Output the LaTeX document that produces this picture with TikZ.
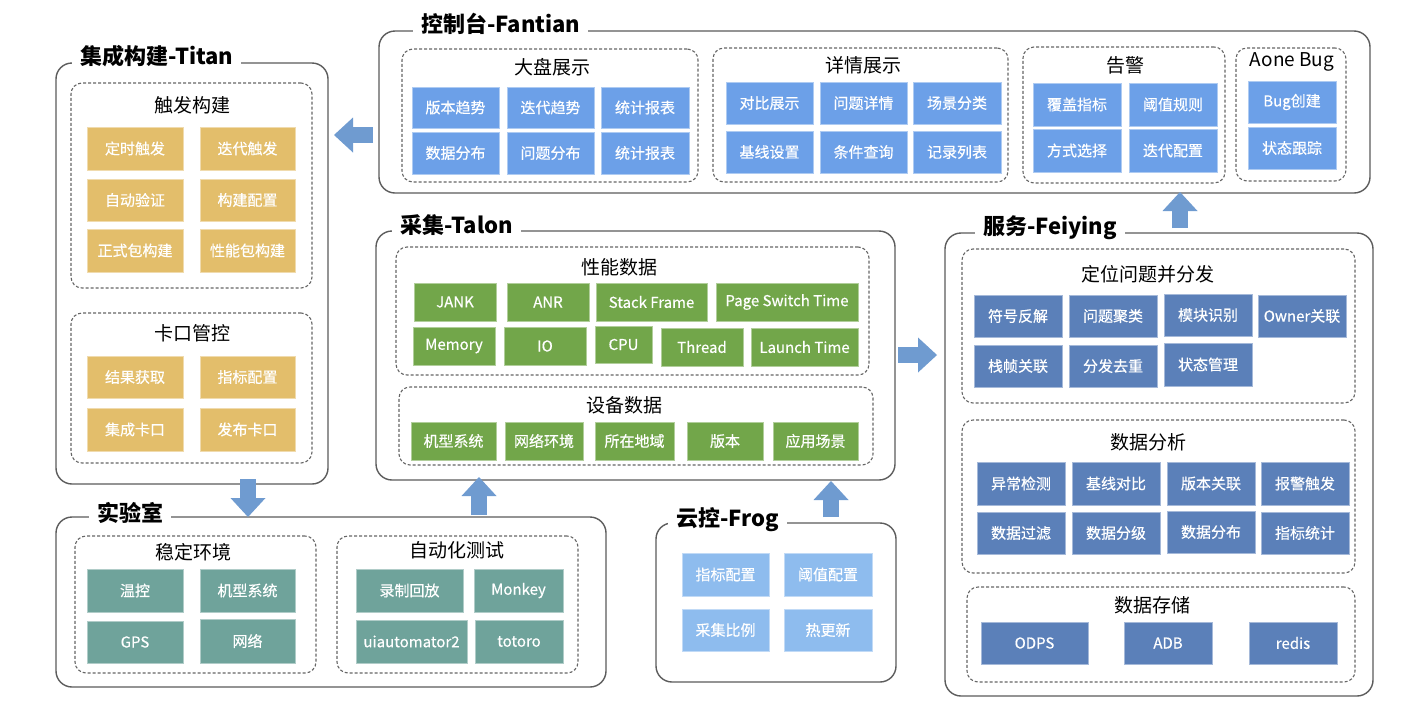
\documentclass[tikz,border=0pt]{standalone}
\usepackage{fontspec}
\setmainfont{Noto Sans CJK SC}
\newfontface\cellfont{Noto Sans CJK SC}[FakeBold=0.5]
\usetikzlibrary{arrows.meta}
\definecolor{linegray}{HTML}{5C5C5C}
\definecolor{dashgray}{HTML}{666666}
\definecolor{goldc}{HTML}{E3BE6B}
\definecolor{fanc}{HTML}{6CA0E8}
\definecolor{talc}{HTML}{72A64A}
\definecolor{feic}{HTML}{5B80B9}
\definecolor{labc}{HTML}{6FA39B}
\definecolor{frogc}{HTML}{8EBCEE}
\definecolor{arrc}{HTML}{6F9BD0}
\newcommand\bx[7]{\node[#2, minimum width={(#5-#3)*1pt}, minimum height={(#6-#4)*1pt}] (#1) at ({(#3+#5)/2},{(#4+#6)/2}) {#7};}
\tikzset{
  outerbox/.style={draw=linegray, line width=1.4pt, rounded corners=16pt, inner sep=0pt, outer sep=0pt},
  grp/.style={draw=dashgray, line width=1.1pt, dash pattern=on 3pt off 2pt, rounded corners=11pt, inner sep=0pt, outer sep=0pt},
  cell/.style={fill=#1, draw=#1!55!white, line width=0.7pt, text=white, inner sep=0pt, outer sep=0pt, font=\cellfont\fontsize{15}{17}\selectfont},
  maintitle/.style={fill=white, anchor=west, inner xsep=8pt, inner ysep=3pt, font=\bfseries\fontsize{22}{24}\selectfont},
  grptitle/.style={inner sep=0pt, font=\fontsize{19}{21}\selectfont},
  fatarrow/.style={draw=arrc, line width=16pt, -{Triangle[width=35pt,length=19pt,line width=0pt]}}
}
\begin{document}
\begin{tikzpicture}[x=1pt,y=-1pt]
\fill[white] (0,0) rectangle (1404,710);
\useasboundingbox (0,0) rectangle (1404,710);

% ---------- outer boxes ----------
\bx{titan}{outerbox}{56}{63}{328}{484}{}
\bx{fantian}{outerbox}{379}{31}{1370}{193}{}
\bx{talon}{outerbox}{376}{231}{895}{480}{}
\bx{feiying}{outerbox}{945}{233}{1373}{696}{}
\bx{lab}{outerbox}{56}{517}{606}{687}{}
\bx{frog}{outerbox}{656}{523}{896}{682}{}

\node[maintitle] (titanT) at (72,56) {集成构建-Titan};
\node[maintitle] (fantianT) at (413,24) {控制台-Fantian};
\node[maintitle] (talonT) at (392,225) {采集-Talon};
\node[maintitle] (feiyingT) at (975,228) {服务-Feiying};
\node[maintitle] (labT) at (89,513) {实验室};
\node[maintitle] (frogT) at (668,520) {云控-Frog};

% ---------- Titan ----------
\bx{gtrig}{grp}{71}{83}{312}{288}{}
\node[grptitle] (gtrigT) at (192,105) {触发构建};
\bx{t11}{cell=goldc}{87}{127}{183}{170}{定时触发}
\bx{t12}{cell=goldc}{200}{127}{295}{170}{迭代触发}
\bx{t21}{cell=goldc}{87}{179}{183}{221}{自动验证}
\bx{t22}{cell=goldc}{200}{179}{295}{221}{构建配置}
\bx{t31}{cell=goldc}{87}{229}{183}{272}{正式包构建}
\bx{t32}{cell=goldc}{200}{229}{295}{272}{性能包构建}
\bx{ggate}{grp}{71}{313}{312}{463}{}
\node[grptitle] (ggateT) at (192,333) {卡口管控};
\bx{k11}{cell=goldc}{87}{356}{183}{398}{结果获取}
\bx{k12}{cell=goldc}{200}{356}{295}{398}{指标配置}
\bx{k21}{cell=goldc}{87}{408}{183}{451}{集成卡口}
\bx{k22}{cell=goldc}{200}{408}{295}{451}{发布卡口}

% ---------- Fantian ----------
\bx{gdash}{grp}{402}{49}{698}{182}{}
\node[grptitle] (gdashT) at (552,67) {大盘展示};
\bx{d11}{cell=fanc}{412}{87}{499}{128}{版本趋势}
\bx{d12}{cell=fanc}{507}{87}{594}{128}{迭代趋势}
\bx{d13}{cell=fanc}{601}{87}{689}{128}{统计报表}
\bx{d21}{cell=fanc}{412}{132}{499}{174}{数据分布}
\bx{d22}{cell=fanc}{507}{132}{594}{174}{问题分布}
\bx{d23}{cell=fanc}{601}{132}{689}{174}{统计报表}
\bx{gdet}{grp}{713}{48}{1008}{182}{}
\node[grptitle] (gdetT) at (863,65) {详情展示};
\bx{e11}{cell=fanc}{726}{82}{813}{124}{对比展示}
\bx{e12}{cell=fanc}{820}{82}{907}{124}{问题详情}
\bx{e13}{cell=fanc}{913}{82}{1001}{124}{场景分类}
\bx{e21}{cell=fanc}{726}{131}{813}{173}{基线设置}
\bx{e22}{cell=fanc}{820}{131}{907}{173}{条件查询}
\bx{e23}{cell=fanc}{913}{131}{1001}{173}{记录列表}
\bx{galarm}{grp}{1023}{47}{1225}{183}{}
\node[grptitle] (galarmT) at (1125,65) {告警};
\bx{a11}{cell=fanc}{1033}{83}{1121}{126}{覆盖指标}
\bx{a12}{cell=fanc}{1129}{83}{1217}{126}{阈值规则}
\bx{a21}{cell=fanc}{1033}{129}{1121}{172}{方式选择}
\bx{a22}{cell=fanc}{1129}{129}{1217}{172}{迭代配置}
\bx{gbug}{grp}{1236}{48}{1346}{181}{}
\node[grptitle] (gbugT) at (1292,62) {Aone Bug};
\bx{b1}{cell=fanc}{1248}{81}{1336}{123}{Bug创建}
\bx{b2}{cell=fanc}{1248}{127}{1336}{169}{状态跟踪}

% ---------- Talon ----------
\bx{gperf}{grp}{396}{247}{869}{375}{}
\node[grptitle] (gperfT) at (619,267) {性能数据};
\bx{p1}{cell=talc}{414}{283}{496}{321}{JANK}
\bx{p2}{cell=talc}{507}{283}{589}{321}{ANR}
\bx{p3}{cell=talc}{596}{283}{707}{321}{Stack Frame}
\bx{p4}{cell=talc}{716}{283}{858}{321}{Page Switch Time}
\bx{p5}{cell=talc}{413}{327}{495}{365}{Memory}
\bx{p6}{cell=talc}{504}{327}{586}{365}{IO}
\bx{p7}{cell=talc}{595}{326}{652}{363}{CPU}
\bx{p8}{cell=talc}{661}{328}{743}{366}{Thread}
\bx{p9}{cell=talc}{751}{328}{858}{366}{Launch Time}
\bx{gdev}{grp}{399}{387}{873}{465}{}
\node[grptitle] (gdevT) at (624,405) {设备数据};
\bx{v1}{cell=talc}{411}{422}{496}{460}{机型系统}
\bx{v2}{cell=talc}{505}{422}{583}{460}{网络环境}
\bx{v3}{cell=talc}{595}{422}{674}{460}{所在地域}
\bx{v4}{cell=talc}{687}{422}{763}{460}{版本}
\bx{v5}{cell=talc}{773}{422}{858}{460}{应用场景}

% ---------- Feiying ----------
\bx{gloc}{grp}{962}{249}{1355}{403}{}
\node[grptitle] (glocT) at (1148,274) {定位问题并分发};
\bx{f11}{cell=feic}{974}{295}{1062}{337}{符号反解}
\bx{f12}{cell=feic}{1069}{295}{1157}{337}{问题聚类}
\bx{f13}{cell=feic}{1164}{294}{1252}{336}{模块识别}
\bx{f14}{cell=feic}{1258}{295}{1346}{337}{Owner关联}
\bx{f21}{cell=feic}{974}{345}{1062}{387}{栈帧关联}
\bx{f22}{cell=feic}{1069}{345}{1157}{387}{分发去重}
\bx{f23}{cell=feic}{1164}{343}{1252}{386}{状态管理}
\bx{gana}{grp}{962}{420}{1355}{573}{}
\node[grptitle] (ganaT) at (1148,442) {数据分析};
\bx{n11}{cell=feic}{977}{462}{1065}{505}{异常检测}
\bx{n12}{cell=feic}{1072}{462}{1160}{505}{基线对比}
\bx{n13}{cell=feic}{1167}{462}{1255}{505}{版本关联}
\bx{n14}{cell=feic}{1261}{462}{1349}{505}{报警触发}
\bx{n21}{cell=feic}{977}{512}{1065}{554}{数据过滤}
\bx{n22}{cell=feic}{1072}{512}{1160}{554}{数据分级}
\bx{n23}{cell=feic}{1167}{511}{1255}{553}{数据分布}
\bx{n24}{cell=feic}{1261}{512}{1349}{554}{指标统计}
\bx{gsto}{grp}{967}{587}{1355}{682}{}
\node[grptitle] (gstoT) at (1152,605) {数据存储};
\bx{s1}{cell=feic}{981}{622}{1088}{664}{ODPS}
\bx{s2}{cell=feic}{1124}{622}{1212}{664}{ADB}
\bx{s3}{cell=feic}{1249}{622}{1337}{664}{redis}

% ---------- Lab ----------
\bx{genv}{grp}{75}{536}{316}{673}{}
\node[grptitle] (genvT) at (193,552) {稳定环境};
\bx{l11}{cell=labc}{87}{569}{183}{612}{温控}
\bx{l12}{cell=labc}{200}{569}{295}{612}{机型系统}
\bx{l21}{cell=labc}{87}{621}{183}{663}{GPS}
\bx{l22}{cell=labc}{200}{619}{295}{663}{网络}
\bx{gauto}{grp}{337}{536}{578}{673}{}
\node[grptitle] (gautoT) at (457,550) {自动化测试};
\bx{m11}{cell=labc}{356}{569}{463}{612}{录制回放}
\bx{m12}{cell=labc}{474}{569}{563}{612}{Monkey}
\bx{m21}{cell=labc}{356}{620}{467}{663}{uiautomator2}
\bx{m22}{cell=labc}{475}{620}{563}{663}{totoro}

% ---------- Frog ----------
\bx{r11}{cell=frogc}{682}{553}{769}{596}{指标配置}
\bx{r12}{cell=frogc}{784}{553}{872}{596}{阈值配置}
\bx{r21}{cell=frogc}{682}{609}{769}{651}{采集比例}
\bx{r22}{cell=frogc}{784}{609}{872}{651}{热更新}

% ---------- arrows ----------
\coordinate (aFs) at (373,135);  \coordinate (aFe) at (334,135);
\coordinate (aTs) at (248,479);  \coordinate (aTe) at (248,517);
\coordinate (aLs) at (479,515);  \coordinate (aLe) at (479,477);
\coordinate (aGs) at (831,517);  \coordinate (aGe) at (831,481);
\coordinate (aPs) at (898,355);  \coordinate (aPe) at (937,355);
\coordinate (aYs) at (1180,228); \coordinate (aYe) at (1180,192);
\draw[fatarrow] (aFs) -- (aFe);
\draw[fatarrow] (aTs) -- (aTe);
\draw[fatarrow] (aLs) -- (aLe);
\draw[fatarrow] (aGs) -- (aGe);
\draw[fatarrow] (aPs) -- (aPe);
\draw[fatarrow] (aYs) -- (aYe);
\end{tikzpicture}
\end{document}
